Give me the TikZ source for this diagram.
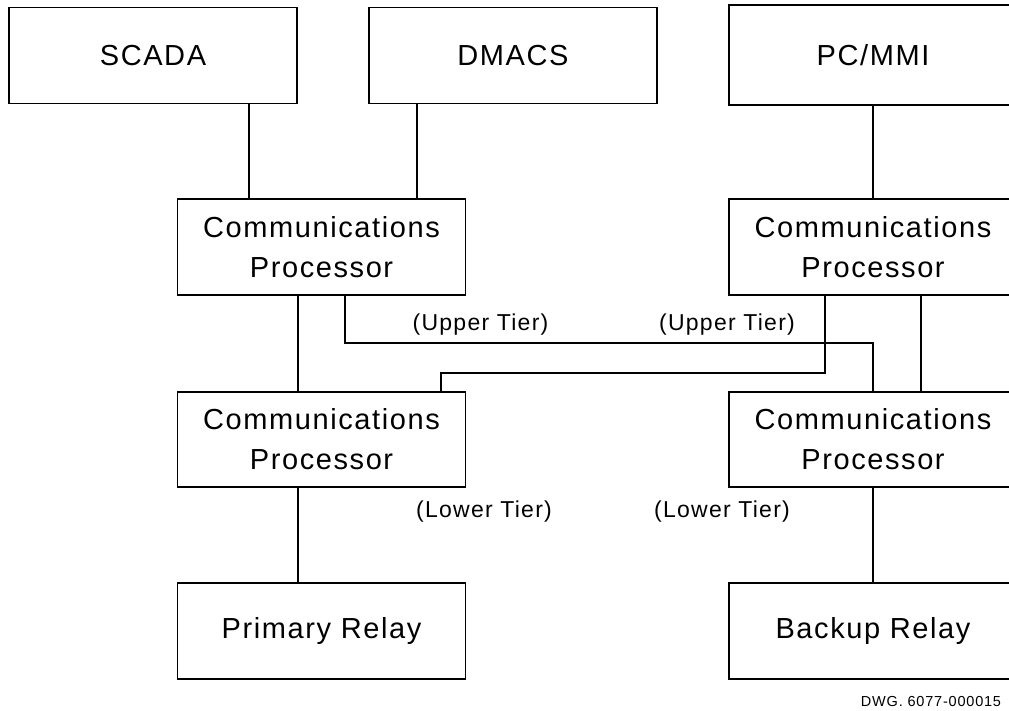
\documentclass[tikz,border=0pt]{standalone}
\usepackage{fontspec}
\setmainfont{Liberation Sans}[LetterSpace=5.5]
\begin{document}
\begin{tikzpicture}[x=1pt,y=-1pt,
  box/.style={draw=black,line width=1.3pt,minimum width=288pt,minimum height=96pt,inner sep=0pt,align=center,
    font=\fontsize{29}{40}\selectfont},
  lbl/.style={inner sep=0pt,font=\fontsize{23}{28}\selectfont},
  conn/.style={draw=black,line width=1.3pt}]
\useasboundingbox (0,0) rectangle (1009,711);
\fill[white] (0,0) rectangle (1009,711);
\begin{scope}
\clip (0,0) rectangle (1009,711);
\node[box] (scada) at (153,55.5) {SCADA};
\node[box] (dmacs) at (513,55.5) {DMACS};
\node[box,minimum height=100pt] (pcmmi) at (873,55) {PC/MMI};
\node[box] (cpul) at (321.5,247) {Communications\\Processor};
\node[box] (cpur) at (873,247) {Communications\\Processor};
\node[box,minimum height=95pt] (cpll) at (321.5,439.5) {Communications\\Processor};
\node[box,minimum height=95pt] (cplr) at (873,439.5) {Communications\\Processor};
\node[box] (relp) at (321.5,631) {Primary Relay};
\node[box] (relb) at (873,631) {Backup Relay};

\draw[conn] (249,0 |- scada.south) -- (249,0 |- cpul.north);
\draw[conn] (417,0 |- dmacs.south) -- (417,0 |- cpul.north);
\draw[conn] (pcmmi.south) -- (cpur.north);
\draw[conn] (298,0 |- cpul.south) -- (298,0 |- cpll.north);
\draw[conn] (298,0 |- cpll.south) -- (298,0 |- relp.north);
\draw[conn] (345,0 |- cpul.south) -- (345,343) -- (873,343) -- (873,0 |- cplr.north);
\draw[conn] (825,0 |- cpur.south) -- (825,373) -- (441,373) -- (441,0 |- cpll.north);
\draw[conn] (921,0 |- cpur.south) -- (921,0 |- cplr.north);
\draw[conn] (cplr.south) -- (relb.north);

\node[lbl] (ut1) at (480.5,325) {(Upper Tier)};
\node[lbl] (ut2) at (727,325) {(Upper Tier)};
\node[lbl] (lt1) at (484,512) {(Lower Tier)};
\node[lbl] (lt2) at (722,512) {(Lower Tier)};
\node[inner sep=0pt,font=\fontsize{14.5}{17}\selectfont] (dwg) at (931,702) {DWG. 6077-000015};
\end{scope}
\end{tikzpicture}
\end{document}
